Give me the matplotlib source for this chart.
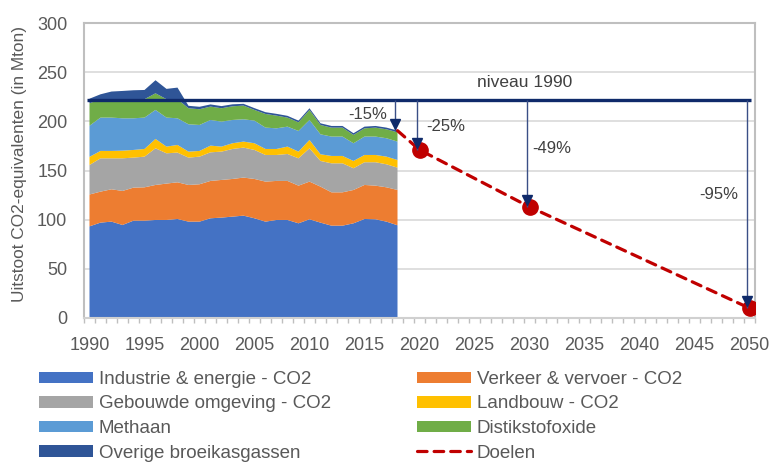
import numpy as np
import matplotlib
matplotlib.use("Agg")
import matplotlib.pyplot as plt
from matplotlib.lines import Line2D
from matplotlib.patches import Patch
from matplotlib.transforms import offset_copy

plt.rcParams["font.family"] = ["Liberation Sans", "DejaVu Sans"]

# Emissions per sector (Mton CO2-eq)
years = list(range(1990, 2019))
industrie = [93.2, 97.0, 98.0, 94.6, 99.0, 99.0, 99.7, 99.7, 100.7, 98.0,
             98.0, 101.4, 102.1, 103.1, 104.1, 101.4, 98.0, 99.7, 99.7, 96.3,
             100.4, 97.0, 93.9, 93.9, 96.3, 100.7, 100.4, 98.0, 94.3]
verkeer = [32.4, 31.5, 32.9, 34.6, 33.6, 33.9, 35.6, 37.0, 37.3, 37.3,
           38.0, 38.0, 38.3, 38.3, 38.7, 40.0, 40.7, 39.7, 39.7, 38.3,
           38.3, 36.6, 33.9, 33.9, 33.9, 34.6, 34.2, 34.9, 35.9]
gebouwd = [30.0, 33.9, 31.5, 33.2, 30.5, 31.2, 37.3, 30.8, 30.2, 27.8,
           28.1, 29.1, 28.8, 30.5, 30.5, 29.5, 27.1, 26.4, 27.4, 27.8,
           33.9, 26.1, 29.5, 29.5, 22.1, 23.1, 23.8, 23.4, 22.7]
landbouw = [8.3, 7.5, 7.5, 7.8, 7.8, 7.8, 9.5, 6.8, 7.8, 6.1,
            5.8, 6.8, 5.1, 5.8, 6.1, 6.8, 6.1, 6.1, 7.5, 6.8,
            8.5, 6.8, 7.5, 7.5, 7.4, 7.4, 7.4, 7.8, 7.8]
methaan = [31.6, 33.9, 33.9, 32.9, 32.2, 31.9, 29.5, 29.5, 27.1, 27.8,
           26.4, 26.1, 25.4, 23.7, 22.7, 23.0, 21.7, 21.0, 20.3, 21.0,
           20.3, 20.3, 19.7, 19.7, 18.0, 18.7, 18.7, 18.7, 18.7]
distikstof = [22.9, 18.7, 18.7, 19.4, 19.4, 18.7, 16.9, 18.7, 19.4, 16.3,
              16.0, 13.6, 13.6, 13.9, 13.9, 10.9, 13.9, 12.9, 9.2, 8.8,
              10.2, 9.5, 9.1, 9.1, 8.5, 8.4, 9.1, 9.1, 9.5]
overige = [4.6, 5.0, 7.8, 8.4, 9.1, 9.4, 13.3, 10.5, 11.8, 2.5,
           2.5, 2.2, 2.2, 2.0, 1.8, 1.8, 1.8, 1.8, 1.8, 1.7,
           1.7, 1.7, 1.7, 1.7, 1.7, 1.7, 1.7, 1.7, 1.7]

series_labels = ["Industrie & energie - CO2", "Verkeer & vervoer - CO2",
                 "Gebouwde omgeving - CO2", "Landbouw - CO2", "Methaan",
                 "Distikstofoxide", "Overige broeikasgassen"]

# Targets
niveau_1990 = 222
doel_years = [2018, 2020, 2030, 2050]
doel_values = [190.5, 171, 113, 10]
doel_labels = ["-15%", "-25%", "-49%", "-95%"]

colors = ["#4472C4", "#ED7D31", "#A5A5A5", "#FFC000", "#5B9BD5", "#70AD47", "#2F5597"]
navy = "#0F2A6A"
red = "#C00000"
grey_txt = "#595959"
label_xy = [(2015.3, 206.5), (2022.4, 194.5), (2032.0, 172.6), (2047.2, 125.1)]

fig = plt.figure(figsize=(7.69, 4.62), dpi=100)
ax = fig.add_axes([84 / 769, 1 - 318 / 462, 671 / 769, 295 / 462])

stack = [industrie, verkeer, gebouwd, landbouw, methaan, distikstof, overige]
ax.stackplot(years, *stack, colors=colors, lw=0, zorder=2)

# 1990 level
ax.hlines(niveau_1990, years[0] - 0.25, doel_years[-1] + 0.15, color=navy, lw=2.4, zorder=4)
ax.text(2029.6, niveau_1990 + 17.3, "niveau 1990", ha="center", va="center",
        fontsize=12.5, color="#404040", zorder=6)

# targets
ax.plot(doel_years, doel_values, color=red, lw=2.3, ls=(0, (3.0, 2.2)),
        dash_capstyle="round", marker="o", ms=11, markevery=[1, 2, 3], zorder=3)

# arrows from 1990 level down to each target
head = offset_copy(ax.transData, fig=fig, x=0, y=5.0, units="points")
for yr, val, lab, (tx, ty) in zip(doel_years, doel_values, doel_labels, label_xy):
    ax.vlines(yr - 0.2, val, niveau_1990, color="#3A4F86", lw=1.0, zorder=5)
    ax.plot([yr - 0.2], [val], marker="v", ms=7.8, color=navy, mec=navy,
            transform=head, zorder=6)
    ax.text(tx, ty, lab, ha="center", va="center", fontsize=12, color="#404040", zorder=6)

ax.set_xlim(1989.5, 2050.5)
ax.set_ylim(0, 300)
ax.set_xticks(range(1990, 2051, 5))
ax.set_xticks(np.arange(1989.5, 2051, 1), minor=True)
ax.set_yticks(range(0, 301, 50))
ax.tick_params(axis="x", which="major", length=0, pad=14, labelsize=13, labelcolor=grey_txt)
ax.tick_params(axis="x", which="minor", length=3.8, width=1, color="#BFBFBF", direction="out")
ax.tick_params(axis="y", length=0, pad=12, labelsize=13, labelcolor=grey_txt)
ax.yaxis.grid(True, color="#D9D9D9", lw=1.2)
ax.set_axisbelow(True)
for side in ["left", "top", "right"]:
    ax.spines[side].set_color("#BFBFBF")
    ax.spines[side].set_linewidth(1.5)
ax.spines["bottom"].set_color("#D0D0D0")
ax.spines["bottom"].set_linewidth(1.5)

fig.text(19.5 / 769, 0.644, "Uitstoot CO2-equivalenten (in Mton)", rotation=90,
         ha="center", va="center", fontsize=12.4, color=grey_txt)

# legend: two columns
patches = [Patch(facecolor=c, edgecolor="none") for c in colors]
doel_handle = Line2D([], [], color=red, lw=2.3, ls=(0, (3.0, 2.2)), dash_capstyle="round")
col1 = [0, 2, 4, 6]
col2 = [1, 3, 5]
leg_kw = dict(loc="upper left", frameon=False, fontsize=13.5, handlelength=2.88,
              handleheight=0.55, handletextpad=0.32, labelspacing=0.4,
              borderpad=0, borderaxespad=0, labelcolor=grey_txt)
fig.legend([patches[i] for i in col1], [series_labels[i] for i in col1],
           bbox_to_anchor=(39 / 769, 1 - 371 / 462), **leg_kw)
fig.legend([patches[i] for i in col2] + [doel_handle],
           [series_labels[i] for i in col2] + ["Doelen"],
           bbox_to_anchor=(417 / 769, 1 - 371 / 462), **leg_kw)

fig.savefig("out.png", dpi=100)
